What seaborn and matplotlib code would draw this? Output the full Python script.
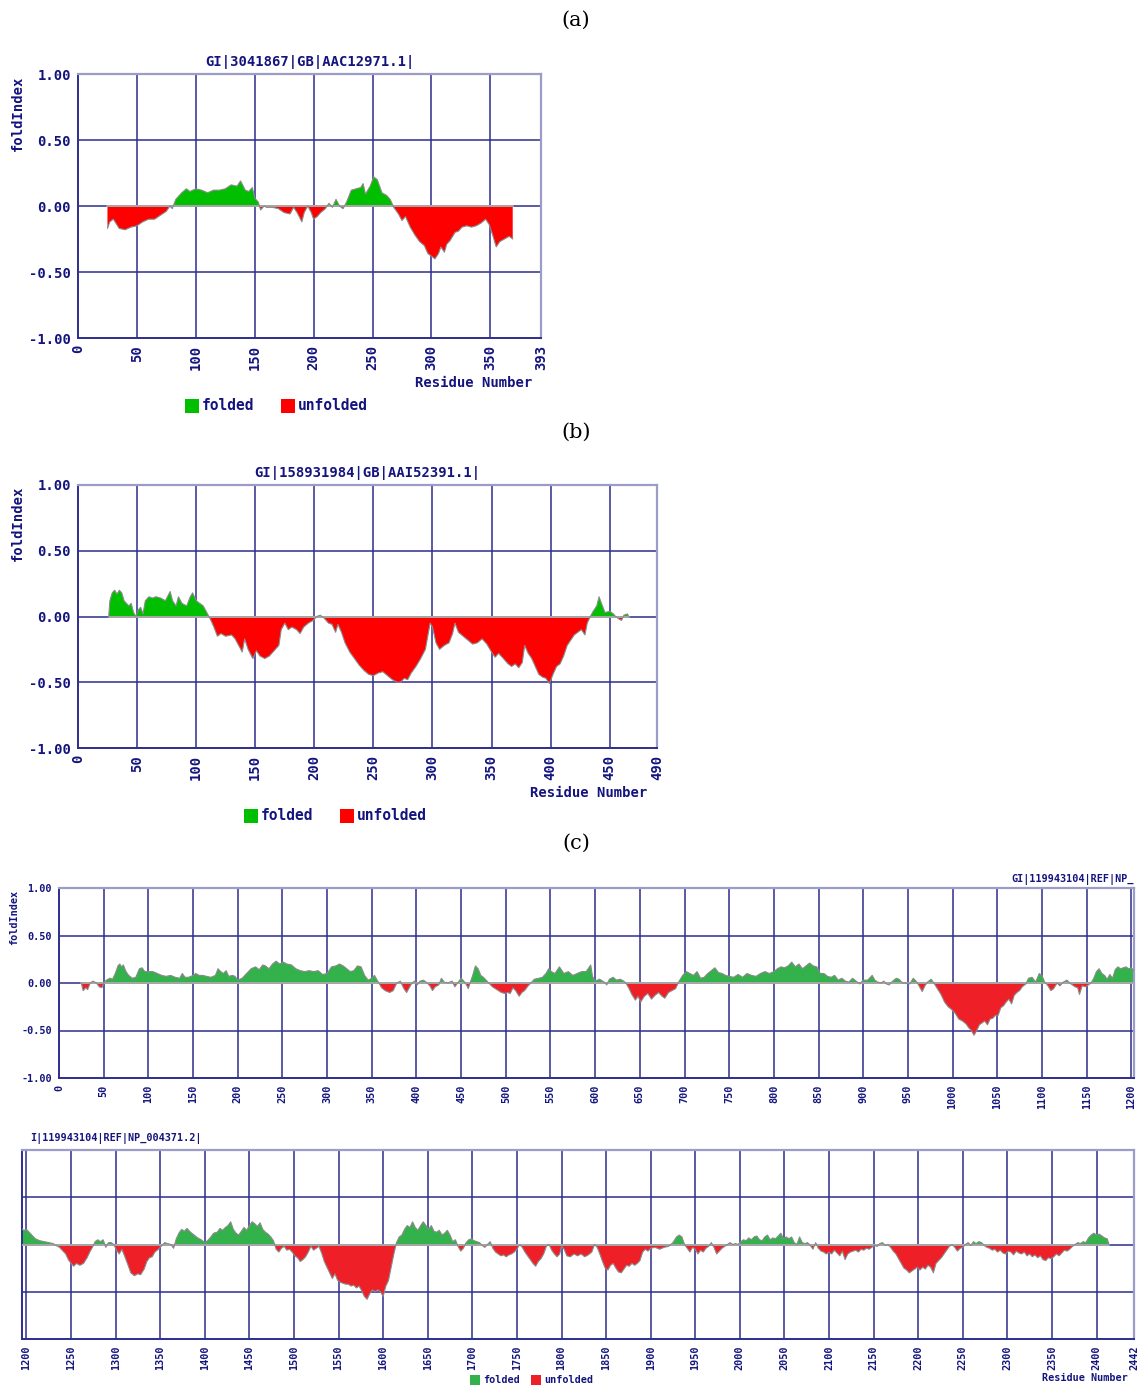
import numpy as np
import matplotlib
matplotlib.use("Agg")
import matplotlib.pyplot as plt
from matplotlib.patches import Rectangle
import seaborn as sns

# ---------------- data ----------------
# (a) GI|3041867|GB|AAC12971.1|
a_res = [25, 27, 30, 35, 40, 45, 50, 55, 60, 65, 70, 75, 78, 80, 83, 88, 92, 95, 100,
         105, 110, 115, 120, 125, 130, 135, 138, 142, 145, 148, 150, 153, 155, 158, 160,
         165, 170, 175, 180, 183, 186, 190, 192, 195, 198, 200, 203, 206, 210, 213, 216,
         219, 222, 225, 228, 232, 236, 240, 242, 244, 248, 251, 254, 258, 262, 265, 268,
         272, 275, 278, 282, 286, 290, 294, 297, 300, 303, 306, 308, 311, 313, 316, 320,
         323, 326, 330, 334, 338, 342, 346, 349, 352, 355, 358, 362, 366, 369]
a_fold = [-0.17, -0.12, -0.10, -0.17, -0.18, -0.16, -0.15, -0.12, -0.10, -0.10, -0.07,
          -0.04, 0.00, -0.02, 0.05, 0.10, 0.13, 0.11, 0.13, 0.12, 0.10, 0.12, 0.12, 0.13,
          0.16, 0.15, 0.19, 0.12, 0.11, 0.14, 0.06, 0.03, -0.03, 0.00, -0.01, -0.01, -0.02,
          -0.05, -0.06, -0.01, -0.05, -0.12, -0.05, 0.00, -0.05, -0.10, -0.08, -0.05, -0.02,
          0.02, -0.01, 0.05, 0.00, -0.02, 0.03, 0.12, 0.13, 0.14, 0.17, 0.09, 0.15, 0.22,
          0.20, 0.10, 0.08, 0.05, -0.01, -0.06, -0.11, -0.08, -0.16, -0.22, -0.27, -0.30,
          -0.36, -0.38, -0.40, -0.36, -0.31, -0.35, -0.29, -0.26, -0.20, -0.19, -0.16,
          -0.15, -0.16, -0.15, -0.13, -0.10, -0.14, -0.22, -0.31, -0.27, -0.25, -0.23, -0.25]

# (b) GI|158931984|GB|AAI52391.1|
b_res = [26, 27, 29, 31, 33, 35, 37, 39, 41, 43, 45, 47, 49, 51, 53, 55, 57, 60, 63, 66,
         70, 74, 78, 80, 83, 85, 88, 92, 95, 97, 100, 103, 106, 109, 112, 115, 118, 121,
         125, 130, 133, 136, 139, 141, 144, 148, 151, 154, 158, 162, 166, 170, 172, 175,
         178, 181, 185, 188, 191, 195, 199, 202, 205, 208, 212, 215, 218, 220, 223, 226,
         230, 234, 238, 242, 246, 250, 254, 258, 262, 266, 270, 273, 276, 279, 282, 286,
         290, 294, 296, 298, 300, 303, 306, 310, 314, 317, 319, 322, 326, 330, 334, 338,
         342, 346, 350, 353, 356, 360, 364, 367, 370, 373, 376, 378, 381, 384, 387, 390,
         393, 396, 399, 402, 405, 408, 411, 414, 417, 420, 423, 426, 429, 431, 433, 436,
         439, 441, 443, 446, 450, 453, 455, 458, 460, 462, 465, 466]
b_fold = [0.00, 0.12, 0.18, 0.20, 0.17, 0.20, 0.18, 0.12, 0.10, 0.08, 0.10, 0.03, 0.00,
          0.05, 0.07, 0.02, 0.12, 0.15, 0.14, 0.15, 0.14, 0.12, 0.19, 0.12, 0.08, 0.15,
          0.10, 0.08, 0.15, 0.18, 0.12, 0.10, 0.08, 0.03, -0.02, -0.08, -0.15, -0.13,
          -0.15, -0.14, -0.17, -0.22, -0.27, -0.17, -0.25, -0.32, -0.26, -0.30, -0.32,
          -0.30, -0.26, -0.22, -0.10, -0.05, -0.10, -0.08, -0.10, -0.13, -0.08, -0.05,
          -0.03, 0.00, 0.01, -0.01, -0.05, -0.06, -0.12, -0.06, -0.12, -0.20, -0.27,
          -0.32, -0.37, -0.41, -0.44, -0.45, -0.43, -0.42, -0.45, -0.48, -0.50, -0.50,
          -0.47, -0.48, -0.43, -0.38, -0.32, -0.25, -0.15, -0.05, -0.08, -0.20, -0.25,
          -0.22, -0.20, -0.13, -0.05, -0.12, -0.15, -0.18, -0.21, -0.20, -0.17, -0.21,
          -0.27, -0.31, -0.28, -0.32, -0.36, -0.38, -0.36, -0.39, -0.35, -0.22, -0.28,
          -0.32, -0.38, -0.44, -0.46, -0.47, -0.51, -0.44, -0.38, -0.36, -0.30, -0.22,
          -0.18, -0.14, -0.12, -0.10, -0.14, -0.05, -0.01, 0.04, 0.08, 0.15, 0.10, 0.03,
          0.04, 0.02, 0.00, -0.02, -0.03, 0.01, 0.02, 0.00]

# (c) GI|119943104|REF|NP_004371.2|
c_res = [25, 27, 30, 32, 35, 38, 42, 45, 48, 50, 53, 57, 60, 63, 66, 68, 70, 72, 75, 78,
         82, 86, 90, 93, 96, 100, 105, 110, 115, 120, 125, 130, 135, 138, 141, 145, 150,
         153, 157, 161, 165, 170, 175, 178, 181, 184, 187, 190, 194, 197, 200, 205, 210,
         215, 220, 224, 228, 231, 235, 239, 243, 247, 251, 255, 260, 265, 270, 275, 280,
         285, 290, 295, 300, 305, 310, 314, 318, 322, 326, 330, 334, 338, 342, 346, 350,
         353, 356, 358, 361, 365, 370, 374, 378, 382, 386, 389, 392, 395, 398, 401, 404,
         408, 412, 415, 418, 421, 425, 428, 431, 435, 440, 443, 446, 450, 453, 456, 458,
         460, 463, 466, 469, 472, 475, 478, 481, 485, 490, 495, 499, 502, 505, 508, 511,
         515, 518, 521, 525, 528, 532, 537, 541, 545, 548, 551, 555, 560, 565, 570, 575,
         580, 585, 590, 595, 597, 600, 605, 610, 613, 616, 620, 624, 628, 632, 635, 638,
         641, 645, 648, 651, 655, 659, 663, 667, 671, 675, 678, 682, 686, 690, 694, 698,
         702, 706, 710, 714, 718, 722, 726, 730, 734, 738, 742, 746, 750, 755, 760, 765,
         770, 775, 780, 785, 790, 795, 800, 804, 808, 812, 816, 820, 824, 828, 832, 836,
         840, 844, 848, 852, 856, 860, 864, 868, 872, 876, 880, 884, 888, 892, 896, 900,
         905, 910, 913, 916, 920, 923, 926, 929, 933, 937, 940, 944, 948, 952, 956, 960,
         963, 966, 969, 972, 976, 979, 983, 987, 991, 995, 999, 1003, 1007, 1011, 1015,
         1018, 1021, 1024, 1027, 1030, 1033, 1036, 1039, 1042, 1045, 1048, 1051, 1054,
         1057, 1060, 1063, 1066, 1069, 1072, 1075, 1078, 1082, 1085, 1089, 1093, 1097,
         1100, 1103, 1106, 1110, 1113, 1117, 1120, 1124, 1128, 1131, 1134, 1137, 1140,
         1142, 1145, 1149, 1152, 1155, 1158, 1161, 1164, 1167, 1170, 1173, 1176, 1179,
         1182, 1185, 1188, 1191, 1194, 1197, 1200, 1203, 1206, 1210, 1215, 1220, 1225,
         1230, 1233, 1237, 1240, 1244, 1247, 1250, 1253, 1256, 1260, 1264, 1268, 1271,
         1274, 1277, 1280, 1283, 1286, 1289, 1292, 1295, 1298, 1301, 1304, 1307, 1310,
         1314, 1317, 1321, 1325, 1328, 1332, 1335, 1338, 1341, 1344, 1348, 1352, 1355,
         1358, 1362, 1365, 1368, 1371, 1374, 1377, 1380, 1384, 1388, 1392, 1396, 1400,
         1403, 1406, 1410, 1414, 1417, 1420, 1423, 1426, 1429, 1432, 1435, 1438, 1441,
         1444, 1447, 1450, 1453, 1456, 1459, 1462, 1465, 1468, 1471, 1474, 1477, 1480,
         1483, 1486, 1489, 1492, 1495, 1498, 1501, 1504, 1507, 1510, 1513, 1516, 1519,
         1522, 1525, 1528, 1531, 1534, 1537, 1540, 1543, 1546, 1549, 1552, 1555, 1558,
         1561, 1564, 1567, 1570, 1573, 1576, 1579, 1582, 1585, 1588, 1591, 1594, 1597,
         1600, 1603, 1606, 1609, 1612, 1615, 1618, 1621, 1624, 1627, 1630, 1633, 1636,
         1639, 1642, 1645, 1648, 1651, 1654, 1657, 1660, 1663, 1666, 1669, 1672, 1675,
         1678, 1681, 1684, 1687, 1690, 1693, 1696, 1699, 1702, 1705, 1708, 1711, 1714,
         1717, 1720, 1723, 1726, 1729, 1732, 1735, 1738, 1741, 1744, 1747, 1750, 1753,
         1756, 1759, 1762, 1765, 1768, 1771, 1774, 1777, 1780, 1783, 1786, 1789, 1792,
         1795, 1798, 1800, 1803, 1806, 1810, 1814, 1818, 1822, 1826, 1830, 1834, 1837,
         1840, 1843, 1846, 1849, 1852, 1855, 1858, 1861, 1864, 1867, 1870, 1873, 1876,
         1879, 1882, 1885, 1888, 1891, 1894, 1897, 1900, 1905, 1910, 1915, 1920, 1925,
         1929, 1932, 1935, 1938, 1941, 1944, 1947, 1950, 1953, 1956, 1959, 1962, 1965,
         1968, 1971, 1974, 1977, 1980, 1983, 1986, 1989, 1992, 1995, 1998, 2001, 2004,
         2007, 2010, 2013, 2016, 2019, 2022, 2025, 2028, 2031, 2034, 2037, 2040, 2043,
         2046, 2049, 2052, 2055, 2058, 2061, 2064, 2067, 2070, 2073, 2076, 2079, 2082,
         2085, 2088, 2091, 2094, 2097, 2100, 2103, 2106, 2109, 2112, 2115, 2118, 2121,
         2124, 2127, 2130, 2133, 2136, 2139, 2142, 2145, 2148, 2151, 2154, 2157, 2160,
         2163, 2166, 2169, 2172, 2175, 2178, 2181, 2184, 2187, 2190, 2193, 2196, 2199,
         2202, 2205, 2208, 2211, 2214, 2217, 2220, 2223, 2226, 2229, 2232, 2235, 2238,
         2241, 2244, 2247, 2250, 2253, 2256, 2259, 2262, 2265, 2268, 2271, 2274, 2277,
         2280, 2283, 2286, 2289, 2292, 2295, 2298, 2301, 2304, 2307, 2310, 2313, 2316,
         2319, 2322, 2325, 2328, 2331, 2334, 2337, 2340, 2343, 2346, 2349, 2352, 2355,
         2358, 2361, 2364, 2367, 2370, 2373, 2376, 2379, 2382, 2385, 2388, 2391, 2394,
         2397, 2400, 2403, 2406, 2409, 2412, 2414]
c_fold = [0.00, -0.08, -0.05, -0.07, 0.00, 0.02, 0.00, -0.04, -0.05, 0.00, 0.03, 0.05,
          0.04, 0.10, 0.18, 0.20, 0.17, 0.19, 0.12, 0.08, 0.05, 0.06, 0.15, 0.16, 0.12,
          0.12, 0.12, 0.10, 0.08, 0.07, 0.08, 0.06, 0.05, 0.10, 0.06, 0.06, 0.08, 0.10,
          0.08, 0.08, 0.07, 0.06, 0.08, 0.15, 0.12, 0.10, 0.13, 0.07, 0.08, 0.07, 0.03,
          0.05, 0.10, 0.15, 0.17, 0.14, 0.19, 0.18, 0.15, 0.20, 0.23, 0.20, 0.22, 0.20,
          0.19, 0.15, 0.13, 0.12, 0.13, 0.12, 0.13, 0.09, 0.10, 0.17, 0.18, 0.20, 0.18,
          0.15, 0.12, 0.13, 0.18, 0.17, 0.08, 0.03, 0.05, 0.08, 0.03, 0.00, -0.05, -0.08,
          -0.10, -0.08, 0.00, 0.02, -0.06, -0.10, -0.05, 0.00, 0.02, -0.02, 0.02, 0.03,
          0.00, -0.03, -0.08, -0.04, -0.02, 0.05, 0.01, 0.00, 0.02, -0.04, 0.00, 0.05,
          0.02, -0.02, -0.06, 0.00, 0.08, 0.18, 0.15, 0.08, 0.06, 0.03, 0.00, -0.04,
          -0.07, -0.10, -0.11, -0.10, -0.11, -0.05, -0.08, -0.14, -0.10, -0.08, -0.03,
          0.00, 0.04, 0.05, 0.06, 0.10, 0.15, 0.12, 0.10, 0.17, 0.10, 0.12, 0.08, 0.10,
          0.12, 0.12, 0.19, 0.07, 0.02, 0.04, 0.01, -0.02, 0.04, 0.06, 0.03, 0.04, 0.02,
          -0.01, -0.06, -0.12, -0.18, -0.14, -0.20, -0.14, -0.11, -0.17, -0.13, -0.10,
          -0.14, -0.16, -0.10, -0.08, -0.06, 0.02, 0.08, 0.12, 0.10, 0.08, 0.12, 0.05,
          0.06, 0.10, 0.13, 0.16, 0.11, 0.10, 0.08, 0.07, 0.06, 0.09, 0.06, 0.10, 0.08,
          0.07, 0.10, 0.12, 0.10, 0.12, 0.15, 0.17, 0.16, 0.18, 0.22, 0.17, 0.20, 0.15,
          0.18, 0.21, 0.18, 0.17, 0.10, 0.10, 0.07, 0.06, 0.08, 0.03, 0.05, 0.02, 0.01,
          0.05, 0.02, -0.01, 0.03, 0.03, 0.08, 0.03, 0.01, 0.00, 0.02, -0.01, -0.02, 0.02,
          0.05, 0.04, 0.00, 0.00, -0.01, 0.05, 0.01, -0.04, -0.09, -0.03, 0.01, 0.04,
          0.00, -0.06, -0.12, -0.20, -0.25, -0.28, -0.32, -0.38, -0.40, -0.43, -0.47,
          -0.50, -0.55, -0.50, -0.44, -0.42, -0.40, -0.44, -0.38, -0.37, -0.34, -0.34,
          -0.26, -0.24, -0.20, -0.17, -0.22, -0.13, -0.10, -0.08, -0.04, -0.01, 0.05,
          0.06, 0.01, 0.10, 0.08, 0.01, -0.02, -0.08, -0.06, 0.00, -0.03, 0.01, 0.03,
          0.00, -0.02, -0.04, -0.05, -0.12, -0.03, -0.04, -0.02, 0.00, 0.05, 0.12, 0.15,
          0.10, 0.08, 0.04, 0.09, 0.05, 0.14, 0.17, 0.15, 0.16, 0.17, 0.15, 0.16, 0.13,
          0.10, 0.06, 0.04, 0.03, 0.02, 0.01, -0.01, -0.03, -0.06, -0.10, -0.16, -0.20,
          -0.23, -0.20, -0.22, -0.20, -0.14, -0.08, -0.03, 0.03, 0.05, 0.03, 0.05, -0.03,
          0.02, 0.02, 0.00, -0.06, -0.10, -0.05, -0.12, -0.22, -0.30, -0.33, -0.31,
          -0.32, -0.26, -0.18, -0.14, -0.13, -0.08, -0.05, -0.01, 0.02, 0.01, 0.00,
          -0.04, 0.06, 0.12, 0.16, 0.14, 0.17, 0.13, 0.10, 0.07, 0.05, 0.02, 0.04, 0.07,
          0.12, 0.13, 0.17, 0.15, 0.18, 0.20, 0.24, 0.16, 0.12, 0.10, 0.14, 0.18, 0.15,
          0.20, 0.24, 0.22, 0.19, 0.23, 0.16, 0.13, 0.11, 0.08, 0.04, -0.05, -0.08,
          -0.04, -0.02, -0.06, -0.05, -0.08, -0.12, -0.14, -0.18, -0.16, -0.13, -0.08,
          -0.02, -0.06, -0.04, -0.02, -0.09, -0.18, -0.24, -0.30, -0.36, -0.31, -0.38,
          -0.40, -0.41, -0.42, -0.42, -0.44, -0.43, -0.46, -0.44, -0.49, -0.55, -0.58,
          -0.52, -0.48, -0.50, -0.48, -0.50, -0.55, -0.44, -0.38, -0.24, -0.10, 0.02,
          0.08, 0.10, 0.16, 0.20, 0.18, 0.24, 0.18, 0.15, 0.20, 0.24, 0.20, 0.16, 0.20,
          0.14, 0.13, 0.15, 0.10, 0.12, 0.15, 0.10, 0.03, 0.05, -0.02, -0.07, -0.04,
          0.02, 0.05, 0.06, 0.04, 0.03, 0.02, -0.01, -0.03, 0.00, 0.03, -0.04, -0.08,
          -0.10, -0.12, -0.11, -0.13, -0.11, -0.10, -0.08, -0.05, 0.00, -0.03, -0.08,
          -0.12, -0.16, -0.20, -0.23, -0.18, -0.15, -0.10, -0.02, 0.00, -0.06, -0.10,
          -0.13, -0.10, -0.02, -0.05, -0.12, -0.13, -0.10, -0.12, -0.10, -0.13, -0.11,
          -0.08, 0.00, -0.03, -0.10, -0.18, -0.25, -0.27, -0.22, -0.20, -0.25, -0.29,
          -0.30, -0.26, -0.22, -0.23, -0.20, -0.22, -0.20, -0.17, -0.08, -0.05, -0.07,
          -0.04, -0.03, -0.05, -0.03, -0.02, 0.02, 0.08, 0.10, 0.08, 0.00, -0.04, -0.08,
          -0.03, -0.05, -0.10, -0.06, -0.08, -0.04, -0.02, 0.02, -0.03, -0.10, -0.07,
          -0.04, -0.02, 0.00, 0.02, 0.00, 0.01, 0.00, 0.03, 0.05, 0.04, 0.07, 0.05, 0.08,
          0.09, 0.05, 0.04, 0.08, 0.10, 0.05, 0.07, 0.06, 0.09, 0.12, 0.06, 0.08, 0.06,
          0.08, 0.02, 0.00, 0.08, 0.02, 0.01, 0.02, -0.01, -0.05, 0.02, -0.04, -0.07,
          -0.08, -0.10, -0.08, -0.10, -0.06, -0.09, -0.12, -0.07, -0.16, -0.10, -0.08,
          -0.07, -0.06, -0.08, -0.05, -0.06, -0.04, -0.05, -0.03, -0.01, -0.02, 0.01,
          0.02, -0.01, 0.00, -0.03, -0.07, -0.10, -0.15, -0.20, -0.25, -0.27, -0.30,
          -0.28, -0.26, -0.24, -0.27, -0.24, -0.26, -0.22, -0.24, -0.30, -0.20, -0.17,
          -0.14, -0.10, -0.06, -0.02, 0.00, -0.03, -0.07, -0.04, -0.03, 0.00, 0.02, -0.01,
          0.03, 0.01, 0.03, 0.02, -0.01, -0.03, -0.04, -0.06, -0.05, -0.08, -0.06, -0.09,
          -0.10, -0.07, -0.08, -0.11, -0.07, -0.09, -0.10, -0.08, -0.12, -0.10, -0.13,
          -0.11, -0.14, -0.12, -0.16, -0.17, -0.14, -0.15, -0.13, -0.10, -0.12, -0.09,
          -0.06, -0.07, -0.05, -0.02, 0.00, 0.02, 0.01, 0.03, 0.02, 0.07, 0.10, 0.12,
          0.10, 0.11, 0.09, 0.07, 0.06, 0.00]

a_ticks = [0, 50, 100, 150, 200, 250, 300, 350, 393]
b_ticks = [0, 50, 100, 150, 200, 250, 300, 350, 400, 450, 490]
c_top_ticks = list(range(0, 1201, 50))
c_bot_ticks = list(range(1200, 2401, 50)) + [2442]
y_ticks = [1.0, 0.5, 0.0, -0.5, -1.0]
y_tick_labels = ["1.00", "0.50", "0.00", "-0.50", "-1.00"]

# ---------------- style ----------------
sns.set_style("white")
plt.rcParams["font.family"] = ["DejaVu Sans Mono", "DejaVu Sans"]

NAVY = "#14147e"
GRID = "#2e2e8c"
FRAME = "#9c9cc8"
MONO = dict(family="DejaVu Sans Mono", weight="bold", color=NAVY)

W, H = 1141, 1387
fig = plt.figure(figsize=(W / 100, H / 100), dpi=100)


def add_axes(left, right, top, bottom):
    return fig.add_axes([left / W, 1 - bottom / H, (right - left) / W, (bottom - top) / H])


def profile(ax, res, fold, xlim, ticks, green, red, fs, show_ylabels=True):
    x = np.asarray(res, dtype=float)
    y = np.asarray(fold, dtype=float)
    ax.set_xlim(*xlim)
    ax.set_ylim(-1, 1)
    # horizontal / vertical grid
    for yv in (-0.5, 0.0, 0.5):
        ax.axhline(yv, color=GRID, lw=1.1, zorder=1)
    for xv in ticks:
        if xlim[0] < xv < xlim[1]:
            ax.axvline(xv, color=GRID, lw=1.1, zorder=1)
    ax.fill_between(x, y, 0, where=y >= 0, interpolate=True, color=green, lw=0, zorder=2)
    ax.fill_between(x, y, 0, where=y <= 0, interpolate=True, color=red, lw=0, zorder=2)
    ax.plot([x[0], x[-1]], [0, 0], color="#a8a8a8", lw=1.4, zorder=3)
    sns.lineplot(x=x, y=y, ax=ax, color="#8a8a8a", lw=0.8, estimator=None,
                 sort=False, zorder=3, legend=False)
    ax.set_xlabel("")
    ax.set_ylabel("")
    ax.set_xticks(ticks)
    ax.set_xticklabels([str(t) for t in ticks], rotation=90, fontsize=fs, **MONO)
    ax.set_yticks(y_ticks)
    if show_ylabels:
        ax.set_yticklabels(y_tick_labels, fontsize=fs, **MONO)
    else:
        ax.set_yticklabels([])
    ax.tick_params(length=0, pad=5)
    for side in ("top", "right"):
        ax.spines[side].set_color(FRAME)
        ax.spines[side].set_linewidth(1.6)
    for side in ("left", "bottom"):
        ax.spines[side].set_color(GRID)
        ax.spines[side].set_linewidth(1.4)


def legend(x_green, x_red, y, box, fs, green, red):
    for xb, col, lab in ((x_green, green, "folded"), (x_red, red, "unfolded")):
        fig.patches.append(Rectangle((xb / W, 1 - (y + box / 2) / H), box / W, box / H,
                                     transform=fig.transFigure, color=col, lw=0))
        fig.text((xb + box + 3) / W, 1 - y / H, lab, ha="left", va="center",
                 fontsize=fs, **MONO)


SERIF = dict(family="DejaVu Serif", fontsize=15, color="black")
A_GREEN, A_RED = "#00bf00", "#ff0000"
C_GREEN, C_RED = "#33b14a", "#ee1f26"

# ---- (a) ----
fig.text(576 / W, 1 - 20 / H, "(a)", ha="center", va="center", **SERIF)
ax_a = add_axes(78, 541, 74, 338)
profile(ax_a, a_res, a_fold, (0, 393), a_ticks, A_GREEN, A_RED, 10)
ax_a.set_title("GI|3041867|GB|AAC12971.1|", fontsize=10, pad=6, **MONO)
fig.text(18 / W, 1 - 113 / H, "foldIndex", rotation=90, ha="center", va="center",
         fontsize=10, **MONO)
fig.text(532 / W, 1 - 383 / H, "Residue Number", ha="right", va="center",
         fontsize=10, **MONO)
legend(185, 281, 406, 14, 10.5, A_GREEN, A_RED)

# ---- (b) ----
fig.text(576 / W, 1 - 432 / H, "(b)", ha="center", va="center", **SERIF)
ax_b = add_axes(78, 657, 485, 748)
profile(ax_b, b_res, b_fold, (0, 490), b_ticks, A_GREEN, A_RED, 10)
ax_b.set_title("GI|158931984|GB|AAI52391.1|", fontsize=10, pad=6, **MONO)
fig.text(18 / W, 1 - 523 / H, "foldIndex", rotation=90, ha="center", va="center",
         fontsize=10, **MONO)
fig.text(647 / W, 1 - 793 / H, "Residue Number", ha="right", va="center",
         fontsize=10, **MONO)
legend(244, 340, 816, 14, 10.5, A_GREEN, A_RED)

# ---- (c) ----
fig.text(576 / W, 1 - 843 / H, "(c)", ha="center", va="center", **SERIF)
ax_c1 = add_axes(59, 1134, 888, 1078)
profile(ax_c1, c_res, c_fold, (0, 1203), c_top_ticks, C_GREEN, C_RED, 7.3)
ax_c1.set_title("GI|119943104|REF|NP_", loc="right", fontsize=7.3, pad=4, **MONO)
fig.text(14 / W, 1 - 917 / H, "foldIndex", rotation=90, ha="center", va="center",
         fontsize=7.3, **MONO)

ax_c2 = add_axes(22, 1134, 1150, 1339)
profile(ax_c2, c_res, c_fold, (1195, 2442), c_bot_ticks, C_GREEN, C_RED, 7.3,
        show_ylabels=False)
fig.text(30 / W, 1 - 1138 / H, "I|119943104|REF|NP_004371.2|", ha="left", va="center",
         fontsize=7.3, **MONO)
fig.text(1128 / W, 1 - 1378 / H, "Residue Number", ha="right", va="center",
         fontsize=7.3, **MONO)
legend(470, 531, 1380, 10, 7.3, C_GREEN, C_RED)

fig.savefig("out.png", dpi=100, facecolor="white")
